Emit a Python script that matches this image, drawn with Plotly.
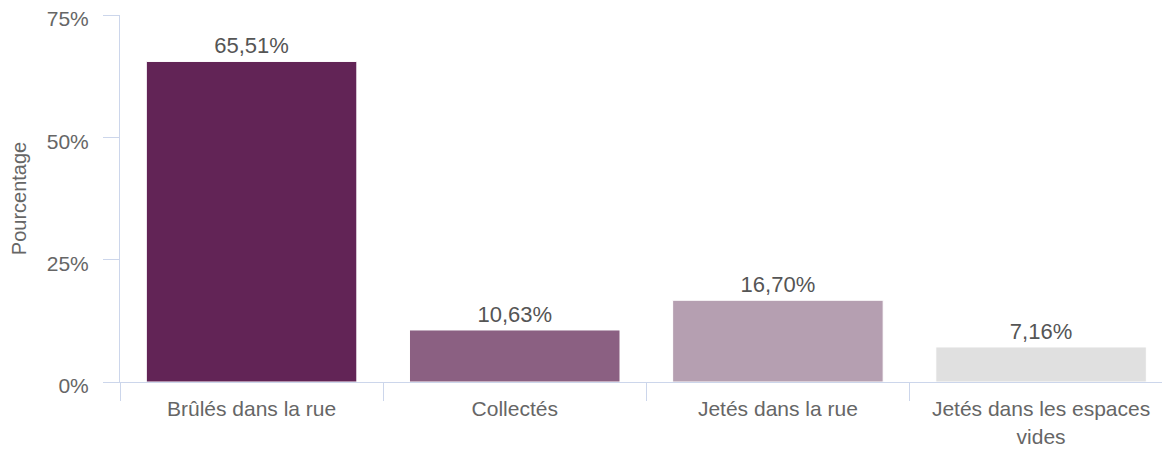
import plotly.graph_objects as go

categories = ["Brûlés dans la rue", "Collectés", "Jetés dans la rue", "Jetés dans les espaces<br>vides"]
values = [65.51, 10.63, 16.70, 7.16]
colors = ["#622456", "#8b6082", "#b59fb1", "#e0e0e0"]
y_ticks = [0, 25, 50, 75]
y_tick_text = ["0%", "25%", "50%", "75%"]

labels = [f"{v:.2f}".replace(".", ",") + "%" for v in values]

fig = go.Figure()
fig.add_trace(go.Bar(
    x=categories, y=values,
    marker=dict(color=colors, line=dict(color="#ffffff", width=1)),
    text=labels, textposition="outside", cliponaxis=False,
    textfont=dict(size=22, color="#555555"),
    width=0.8,
))

axis_col = "#ccd6eb"
# page body has an 8px margin, so the figure is shifted by that much
fig.update_layout(
    width=1162, height=442,
    margin=dict(l=112, r=0, t=7, b=68),
    paper_bgcolor="white", plot_bgcolor="white",
    font=dict(family="Liberation Sans, Arial, sans-serif", color="#666666", size=21),
    showlegend=False,
)
fig.update_xaxes(
    range=[-0.5, 3.49],
    showline=True, linecolor=axis_col, linewidth=1,
    ticks="outside", tickson="boundaries", ticklen=18, tickcolor=axis_col,
    ticklabelstandoff=8,
    showgrid=False, tickfont=dict(size=21, color="#666666"),
    automargin=False,
)
fig.update_yaxes(
    range=[0, 75], tickvals=y_ticks, ticktext=y_tick_text,
    showline=True, linecolor=axis_col, linewidth=1,
    ticks="outside", ticklen=16, tickcolor=axis_col,
    ticklabelstandoff=10, ticklabelshift=4, ticklabeloverflow="allow",
    showgrid=False, zeroline=False,
    tickfont=dict(size=21, color="#666666"),
    title=dict(text="Pourcentage", font=dict(size=20, color="#666666"), standoff=40),
    automargin=False,
)

fig.write_html("out.html")
